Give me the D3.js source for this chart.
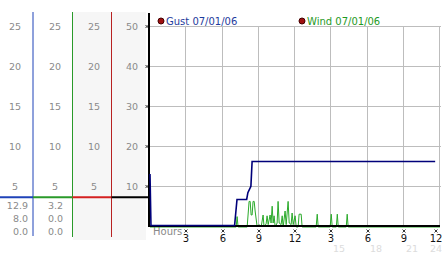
<!DOCTYPE html>
<html>
<head>
<meta charset="utf-8">
<script src="https://cdn.jsdelivr.net/npm/d3@7"></script>
<style>
  body { margin: 0; background: #fff; }
  svg { display: block; font-family: "DejaVu Sans", Verdana, sans-serif; }
</style>
</head>
<body>
<svg id="chart" width="442" height="253"></svg>
<script>
// scale labels for the left columns
const windTicks = [25, 20, 15, 10, 5];
const gustTicks = [50, 40, 30, 20, 10];
const hourTicks = [3, 6, 9, 12, 15, 18, 21, 24];
const hourLabels = ['3', '6', '9', '12', '3', '6', '9', '12'];
const nextDayLabels = ['15', '18', '21', '24'];

// current / max / min readouts
const gustStats = ['12.9', '8.0', '0.0'];
const windStats = ['3.2', '0.0', '0.0'];
const cursorValue = 3.6; // on wind scale

const legend = [
  { name: 'Gust 07/01/06', color: '#1e3c9c' },
  { name: 'Wind 07/01/06', color: '#1f9a1f' },
];

// [hour, mph]
const gust = [
  [0, 12.9], [0.08, 0], [7.0, 0], [7.2, 6.5], [8.0, 6.5], [8.1, 8.2],
  [8.35, 9.8], [8.45, 16], [23.6, 16],
];

const wind = [
  [0, 0], [7.13, 0], [7.21, 1.3], [7.29, 0], [8.04, 0], [8.2, 3.2], [8.29, 3.2],
  [8.37, 1.5], [8.45, 1.5], [8.53, 3.2], [8.62, 3.2], [8.7, 2.0], [8.87, 0],
  [9.03, 0.3], [9.2, 0], [9.36, 1.5], [9.44, 0], [9.61, 0.4], [9.69, 1.4],
  [9.78, 0.3], [9.94, 1.5], [10.02, 0.5], [10.11, 2.6], [10.19, 0.5],
  [10.27, 1.4], [10.36, 0], [10.52, 0.5], [10.6, 3.2], [10.69, 0.5],
  [10.85, 0.3], [10.94, 1.4], [11.02, 0], [11.18, 2.0], [11.27, 0.3],
  [11.43, 3.2], [11.52, 0.5], [11.68, 0.3], [11.76, 1.75], [11.85, 0.3],
  [12.01, 1.4], [12.1, 0], [12.26, 0], [12.34, 1.6], [12.51, 1.6], [12.59, 0],
  [13.75, 0], [13.84, 1.6], [13.92, 0], [14.91, 0], [15.0, 1.6], [15.08, 0],
  [15.42, 0], [15.5, 1.6], [15.58, 0], [16.24, 0], [16.32, 1.6], [16.4, 0],
  [24, 0],
];

const svg = d3.select('#chart');

const x = d3.scaleLinear().domain([0, 24]).range([150, 440]);
const yGust = d3.scaleLinear().domain([0, 50]).range([226, 26]);
const yWind = d3.scaleLinear().domain([0, 25]).range([226, 26]);

const GRAY = '#8a8a8a';
// tick positions, the last one is pulled in so its label fits
const tickX = d => Math.min(Math.round(x(d)), 436);

// left panel background
svg.append('rect')
  .attr('x', 73).attr('y', 12).attr('width', 73).attr('height', 228)
  .attr('fill', '#f6f6f6');

// column scales
const cols = [
  { cx: 15, ticks: windTicks, y: yWind },
  { cx: 55, ticks: windTicks, y: yWind },
  { cx: 94, ticks: windTicks, y: yWind },
  { cx: 132, ticks: gustTicks, y: yGust },
];
cols.forEach(c => {
  svg.append('g').selectAll('text')
    .data(c.ticks)
    .join('text')
    .attr('x', c.cx)
    .attr('y', d => c.y(d) + 3.5)
    .attr('text-anchor', 'middle')
    .attr('font-size', '9.5px')
    .attr('fill', GRAY)
    .text(d => d);
});

// readouts
[{ right: 28, vals: gustStats }, { right: 63, vals: windStats }].forEach(c => {
  svg.append('g').selectAll('text')
    .data(c.vals)
    .join('text')
    .attr('x', c.right)
    .attr('y', (d, i) => 209 + i * 13)
    .attr('text-anchor', 'end')
    .attr('font-size', '9.5px')
    .attr('fill', GRAY)
    .text(d => d);
});

// column divider lines
const dividers = [
  { x: 33, color: '#1f43b8', y2: 236 },
  { x: 72.5, color: '#2a9a2a', y2: 237 },
  { x: 111.5, color: '#b82222', y2: 237 },
];
svg.append('g').selectAll('line')
  .data(dividers)
  .join('line')
  .attr('x1', d => d.x).attr('x2', d => d.x)
  .attr('y1', 12).attr('y2', d => d.y2)
  .attr('stroke', d => d.color)
  .attr('stroke-width', 1);

// cursor segments
const segs = [
  { x1: 0, x2: 33, color: '#1f43b8' },
  { x1: 33, x2: 72.5, color: '#2a9a2a' },
  { x1: 72.5, x2: 111.5, color: '#d42020' },
  { x1: 111.5, x2: 150, color: '#000' },
];
svg.append('g').selectAll('line')
  .data(segs)
  .join('line')
  .attr('x1', d => d.x1).attr('x2', d => d.x2)
  .attr('y1', yWind(cursorValue)).attr('y2', yWind(cursorValue))
  .attr('stroke', d => d.color)
  .attr('stroke-width', 2);

// grid
svg.append('g').selectAll('line')
  .data(gustTicks)
  .join('line')
  .attr('x1', x(0)).attr('x2', 441)
  .attr('y1', d => yGust(d) + 0.5).attr('y2', d => yGust(d) + 0.5)
  .attr('stroke', '#bdbdbd');
svg.append('g').selectAll('line')
  .data(hourTicks)
  .join('line')
  .attr('x1', d => Math.round(x(d)) - 0.5).attr('x2', d => Math.round(x(d)) - 0.5)
  .attr('y1', yGust(50)).attr('y2', yGust(0))
  .attr('stroke', '#bdbdbd');

// tick marks (little crosses)
const cross = (g, cx, cy) => g.append('path')
  .attr('d', `M${cx - 1.5},${cy - 1.5}L${cx + 1.5},${cy + 1.5}M${cx + 1.5},${cy - 1.5}L${cx - 1.5},${cy + 1.5}`)
  .attr('stroke', '#222').attr('stroke-width', 0.9).attr('fill', 'none');
const tickG = svg.append('g');
gustTicks.forEach(d => cross(tickG, 147, yGust(d) + 0.5));
hourTicks.forEach(d => cross(tickG, tickX(d), 231));

// hour labels
svg.append('g').selectAll('text')
  .data(hourTicks)
  .join('text')
  .attr('x', d => tickX(d))
  .attr('y', 242)
  .attr('text-anchor', 'middle')
  .attr('font-size', '10px')
  .attr('fill', '#111')
  .text((d, i) => hourLabels[i]);

svg.append('g').selectAll('text')
  .data(nextDayLabels)
  .join('text')
  .attr('x', (d, i) => Math.min(Math.round(x(hourTicks[4 + i])) + 2, 430))
  .attr('y', 252)
  .attr('font-size', '9.5px')
  .attr('fill', '#dcdcdc')
  .text(d => d);

svg.append('text')
  .attr('x', 153).attr('y', 235)
  .attr('font-size', '10px')
  .attr('fill', GRAY)
  .text('Hours');

// series
const windLine = d3.line().x(d => x(d[0])).y(d => yWind(d[1]) + 1);
svg.append('path')
  .datum(wind)
  .attr('d', windLine)
  .attr('fill', 'none')
  .attr('stroke', '#2aaa2a')
  .attr('stroke-width', 1);

// axes
svg.append('line')
  .attr('x1', x(0)).attr('x2', 440)
  .attr('y1', 226).attr('y2', 226)
  .attr('stroke', '#000').attr('stroke-width', 2);
svg.append('line')
  .attr('x1', 149).attr('x2', 149)
  .attr('y1', 13).attr('y2', 227)
  .attr('stroke', '#000').attr('stroke-width', 2);

const gustLine = d3.line().x(d => x(d[0])).y(d => yGust(d[1]) - 0.5);
svg.append('path')
  .datum(gust)
  .attr('d', gustLine)
  .attr('fill', 'none')
  .attr('stroke', '#00007a')
  .attr('stroke-width', 1.6);

// legend
const lg = svg.append('g').selectAll('g')
  .data(legend)
  .join('g')
  .attr('transform', (d, i) => `translate(${i === 0 ? 161 : 302},21)`);
lg.append('circle')
  .attr('r', 3)
  .attr('fill', '#a01010')
  .attr('stroke', '#400');
lg.append('text')
  .attr('x', 5).attr('y', 3.5)
  .attr('font-size', '10px')
  .attr('fill', d => d.color)
  .text(d => d.name);
</script>
</body>
</html>
